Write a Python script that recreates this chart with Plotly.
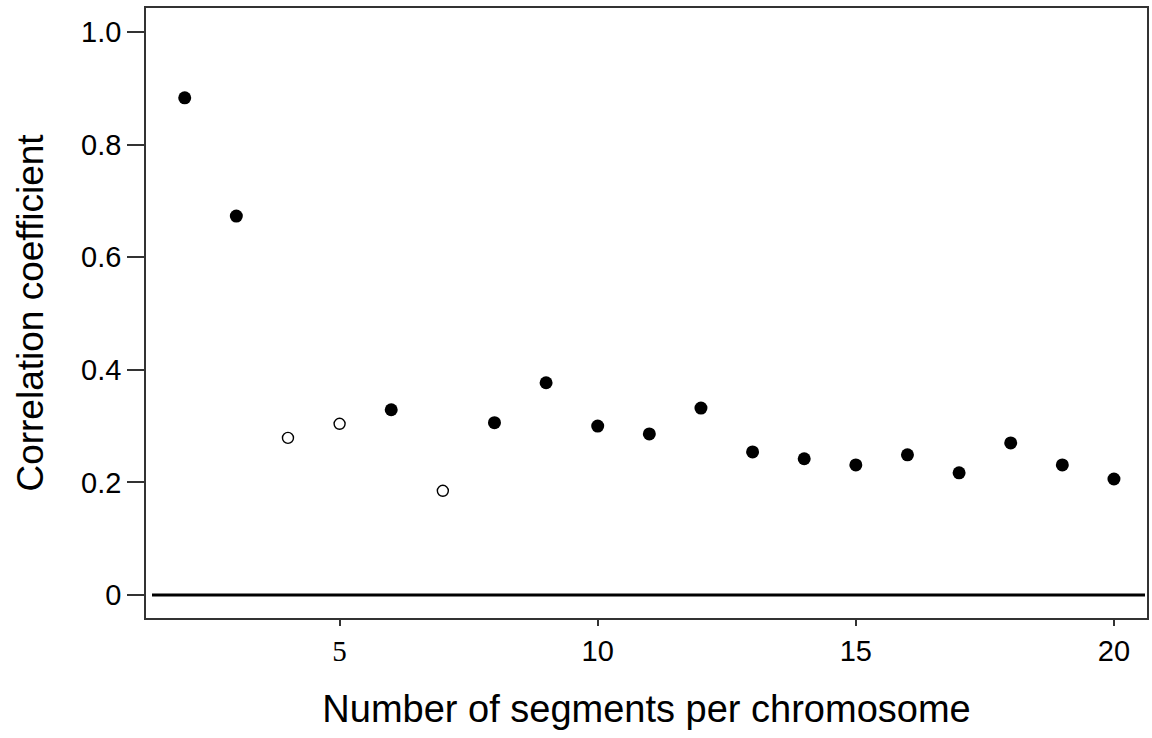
import plotly.graph_objects as go

segments = list(range(2, 21))
corr = [0.883, 0.673, 0.279, 0.304, 0.329, 0.185, 0.306, 0.377, 0.300, 0.286,
        0.332, 0.254, 0.242, 0.231, 0.249, 0.217, 0.270, 0.231, 0.206]
significant = [True, True, False, False, True, False, True, True, True, True,
               True, True, True, True, True, True, True, True, True]

x_tickvals = [5, 10, 15, 20]
x_ticktext = ['<span style="font-family:\'Liberation Serif\', \'Times New Roman\', serif">5</span>', "10", "15", "20"]
y_tickvals = [0, 0.2, 0.4, 0.6, 0.8, 1.0]
y_ticktext = ["0", "0.2", "0.4", "0.6", "0.8", "1.0"]

sx = [s for s, g in zip(segments, significant) if g]
sy = [c for c, g in zip(corr, significant) if g]
nx = [s for s, g in zip(segments, significant) if not g]
ny = [c for c, g in zip(corr, significant) if not g]

fig = go.Figure()
fig.add_trace(go.Scatter(x=sx, y=sy, mode="markers",
                         marker=dict(symbol="circle", size=13, color="black",
                                     line=dict(width=0)), showlegend=False))
fig.add_trace(go.Scatter(x=nx, y=ny, mode="markers",
                         marker=dict(symbol="circle", size=11, color="white",
                                     line=dict(width=1.4, color="black")), showlegend=False))

fig.add_shape(type="line", xref="paper", yref="y", x0=0.006, x1=0.998, y0=0, y1=0,
              line=dict(color="black", width=3), layer="below")

fig.update_layout(
    width=1152, height=738,
    margin=dict(l=146, r=3, t=8, b=120),
    plot_bgcolor="white", paper_bgcolor="white",
    font=dict(family="Liberation Sans, Arial, sans-serif", color="black", size=29),
    xaxis=dict(range=[1.25, 20.64], tickvals=x_tickvals, ticktext=x_ticktext,
               ticks="outside", ticklen=6, tickwidth=1.5, tickcolor="#333",
               showline=True, mirror=True, linecolor="#333", linewidth=1.5,
               showgrid=False, zeroline=False, tickfont=dict(size=29),
               title=dict(text="Number of segments per chromosome", font=dict(size=38), standoff=30)),
    yaxis=dict(range=[-0.0409, 1.0426], tickvals=y_tickvals, ticktext=y_ticktext,
               ticks="outside", ticklen=17, tickwidth=1.5, tickcolor="#333",
               showline=True, mirror=True, linecolor="#333", linewidth=1.5,
               showgrid=False, zeroline=False, tickfont=dict(size=29),
               title=dict(text="Correlation coefficient", font=dict(size=37), standoff=26)),
)

fig.write_html("out.html", config={"displayModeBar": False},
               post_script="document.body.style.margin='0';document.body.style.overflow='hidden';")
